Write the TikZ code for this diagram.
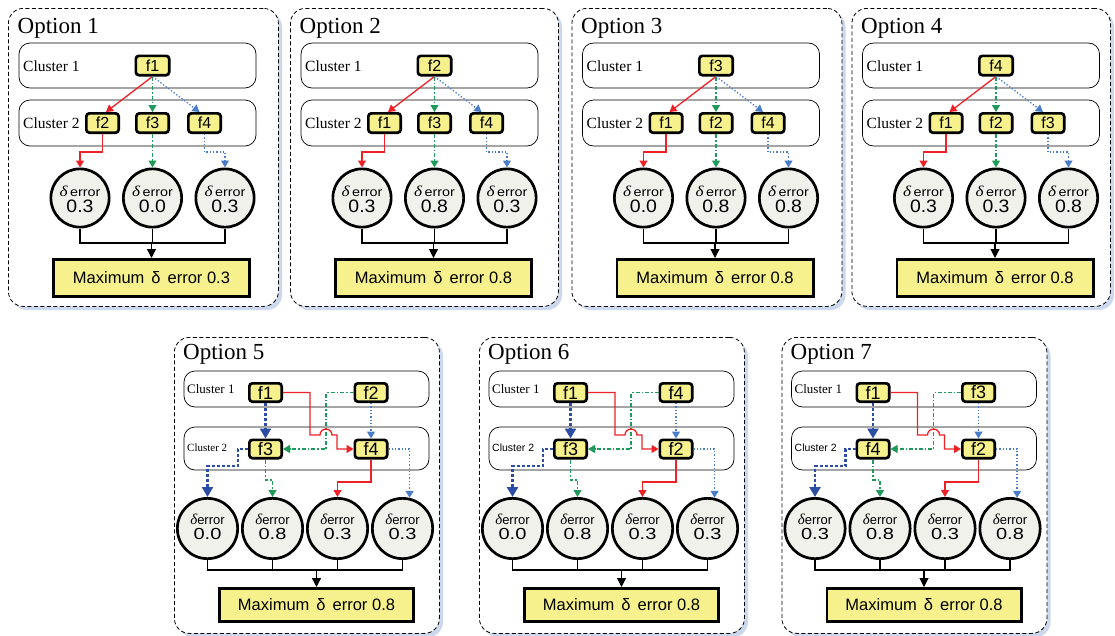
\documentclass[tikz,border=0pt]{standalone}
\usepackage{fontspec}
\setmainfont{Liberation Serif}
\setsansfont{Liberation Sans}
\usetikzlibrary{arrows.meta,calc}
\definecolor{fy}{HTML}{F6F18C}
\definecolor{cgy}{HTML}{F1F1EC}
\definecolor{cr}{HTML}{EC2227}
\definecolor{cgr}{HTML}{1E9A5A}
\definecolor{cbl}{HTML}{4A7DC8}
\definecolor{cbd}{HTML}{2B4DA3}
\definecolor{shd}{HTML}{CCD8EE}
\newcommand\fs[1]{\fontsize{#1}{#1}\selectfont}
\def\seterr#1#2#3#4{\def\eA{#1}\def\eB{#2}\def\eC{#3}\def\eM{#4}}
\def\seterrb#1#2#3#4#5{\def\eA{#1}\def\eB{#2}\def\eC{#3}\def\eD{#4}\def\eM{#5}}
\tikzset{
  panel/.style={draw=black, dash pattern=on 4pt off 2.5pt, line width=0.8pt, rounded corners=15pt, fill=white, inner sep=0pt},
  clus/.style={draw=black, line width=0.7pt, rounded corners=11pt, fill=white, inner sep=0pt},
  fnode/.style={draw=black, line width=2.7pt, rounded corners=3pt, fill=fy, inner sep=0pt, font=\sffamily},
  errc/.style={circle, draw=black, line width=2.7pt, fill=cgy, inner sep=0pt},
  maxb/.style={draw=black, line width=2.7pt, fill=fy, inner sep=0pt, font=\fs{16.5}\sffamily},
  txt/.style={inner sep=0pt},
  ar/.style={draw=cr, line width=1.3pt, -{Triangle[width=8pt,length=7pt]}},
  ag/.style={draw=cgr, line width=1.3pt, dash pattern=on 4pt off 2pt on 1.5pt off 2pt, -{Triangle[width=8pt,length=7pt]}},
  ab/.style={draw=cbl, line width=1.3pt, dash pattern=on 1.3pt off 2pt, -{Triangle[width=8pt,length=7pt]}},
  abd/.style={draw=cbd, line width=2.8pt, dash pattern=on 3pt off 2pt, -{Triangle[width=11pt,length=10pt]}},
  ak/.style={draw=black, line width=1.1pt},
  akt/.style={draw=black, line width=1.1pt, -{Triangle[width=9pt,length=9pt]}}
}
% top-row panel: #1 left, #2 right, #3 number, #4 top node, #5-#7 second row, #8 {e1}{e2}{e3}{max}
\newcommand\toppanel[8]{%
 \seterr#8%
 \pgfmathsetmacro\PW{#2-#1}%
 \begin{scope}[shift={(#1,8)}, name prefix=p#3-]
  \fill[shd, rounded corners=15pt] (4,4) rectangle ({\PW+4},302);
  \node[panel, anchor=north west, minimum width=\PW pt, minimum height=298pt] (frame) at (0,0) {};
  \node[txt, anchor=base west, font=\fs{23}] (ttl) at (9.5,25) {Option #3};
  \node[clus, minimum width=237pt, minimum height=45pt] (k1) at (129.5,57.5) {};
  \node[clus, minimum width=237pt, minimum height=46pt] (k2) at (129.5,115) {};
  \node[txt, anchor=west, font=\fs{15.5}] (k1t) at (15,58) {Cluster 1};
  \node[txt, anchor=west, font=\fs{15.5}] (k2t) at (15,115) {Cluster 2};
  \node[fnode, minimum width=33.3pt, minimum height=19.3pt, font=\fs{16}\sffamily] (t) at (144.5,57.5) {#4};
  \node[fnode, minimum width=32.3pt, minimum height=19.3pt, font=\fs{16}\sffamily] (a) at (94.5,115) {#5};
  \node[fnode, minimum width=32.3pt, minimum height=19.3pt, font=\fs{16}\sffamily] (b) at (144.5,115) {#6};
  \node[fnode, minimum width=32.3pt, minimum height=19.3pt, font=\fs{16}\sffamily] (c) at (196.5,115) {#7};
  \node[errc, minimum size=58.3pt] (e1) at (72,190) {};
  \node[errc, minimum size=58.3pt] (e2) at (144.5,190) {};
  \node[errc, minimum size=58.3pt] (e3) at (217,190) {};
  \foreach \n/\v in {e1/\eA, e2/\eB, e3/\eC}{
    \node[txt, anchor=base] (\n a) at ($(\n)+(0,-2)$) {\scalebox{1.15}[1]{\fs{15}\itshape δ\fs{12.5}\sffamily\upshape\,error}};
    \node[txt, anchor=base] (\n b) at ($(\n)+(0,14)$) {\scalebox{1.08}[1]{\fs{18}\sffamily\v}};
  }
  \node[maxb, minimum width=196.3pt, minimum height=37.3pt] (mx) at (143.5,270) {Maximum\hspace{7pt}δ\hspace{7pt}error \eM};
  \coordinate (j) at (143.5,235);
  \draw[ar] (t.south) -- ($(a.north)+(3.5,0)$);
  \draw[ag] (t.south) -- (b.north);
  \draw[ab] (t.south) -- ($(c.north)+(-5,0)$);
  \draw[ar] (a.south) -- ++(0,18) -| (e1.north);
  \draw[ag] (b.south) -- (b.south |- e2.north);
  \draw[ab] (c.south) -- ++(0,18) -| (e3.north);
  \draw[ak] (e1.south) |- (j) -| (e3.south);
  \draw[ak] (e2.south) -- (e2.south |- j);
  \draw[akt] (j) -- (mx.north);
 \end{scope}}
% bottom-row panel: #1 left, #2 right, #3 number, #4 top-right node, #5 #6 second row, #7 {e1}{e2}{e3}{e4}{max}, #8 cluster-2 font
\newcommand\botpanel[8]{%
 \seterrb#7%
 \pgfmathsetmacro\PW{#2-#1}%
 \begin{scope}[shift={(#1,337)}, name prefix=p#3-]
  \fill[shd, rounded corners=15pt] (4,4) rectangle ({\PW+4},300);
  \node[panel, anchor=north west, minimum width=\PW pt, minimum height=296pt] (frame) at (0,0) {};
  \node[txt, anchor=base west, font=\fs{23}] (ttl) at (9,22) {Option #3};
  \node[clus, minimum width=245pt, minimum height=36pt] (k1) at (132.5,52) {};
  \node[clus, minimum width=245pt, minimum height=43pt] (k2) at (132.5,111.5) {};
  \node[txt, anchor=west, font=\fs{13}] (k1t) at (13,52) {Cluster 1};
  \node[txt, anchor=west, font=#8] (k2t) at (13,111) {Cluster 2};
  \node[fnode, minimum width=32.3pt, minimum height=18.3pt, font=\fs{18}\sffamily] (fA) at (91.5,55.5) {f1};
  \node[fnode, minimum width=32.3pt, minimum height=18.3pt, font=\fs{18}\sffamily] (fB) at (197,55.5) {#4};
  \node[fnode, minimum width=32.3pt, minimum height=18.3pt, font=\fs{18}\sffamily] (fC) at (91.5,112) {#5};
  \node[fnode, minimum width=32.3pt, minimum height=18.3pt, font=\fs{18}\sffamily] (fD) at (197,112) {#6};
  \node[errc, minimum size=60.3pt] (e1) at (33.5,191.5) {};
  \node[errc, minimum size=60.3pt] (e2) at (98.5,191.5) {};
  \node[errc, minimum size=60.3pt] (e3) at (163.5,191.5) {};
  \node[errc, minimum size=60.3pt] (e4) at (228.5,191.5) {};
  \foreach \n/\v in {e1/\eA, e2/\eB, e3/\eC, e4/\eD}{
    \node[txt, anchor=base] (\n a) at ($(\n)+(0,-4.5)$) {\fs{15}\itshape δ\fs{13}\sffamily\upshape error};
    \node[txt, anchor=base] (\n b) at ($(\n)+(0,11)$) {\scalebox{1.25}[1]{\fs{16}\sffamily\v}};
  }
  \node[maxb, minimum width=194.3pt, minimum height=33.3pt] (mx) at (142.5,268) {Maximum\hspace{7pt}δ\hspace{7pt}error \eM};
  \coordinate (j) at (142.5,233);
  \draw[abd] (fA.south) -- (fC.north);
  \draw[ag] (fB.west) -| (152,112) -- (fC.east);
  \draw[ar] (fA.east) -| (136,98) -- (146,98) arc[start angle=180, end angle=0, radius=6pt] -- (163,98) |- (fD.west);
  \draw[ab] (fB.south) -- (fD.north);
  \draw[ab] (fD.east) -| (e4.77);
  \draw[ar] (fD.south) -- ++(0,22.5) -| (e3.north);
  \draw[ag] (fC.south) -- ++(0,20.5) -| (e2.north);
  \draw[abd] (fC.west) -- ++(-10,0) -- ++(0,17) -| (e1.north);
  \draw[ak] (e1.south) |- (j) -| (e4.south);
  \draw[ak] (e2.south) -- (e2.south |- j);
  \draw[ak] (e3.south) -- (e3.south |- j);
  \draw[akt] (j) -- (mx.north);
 \end{scope}}
\begin{document}
\begin{tikzpicture}[x=1pt, y=-1pt]
\fill[white] (0,0) rectangle (1115,635);
\useasboundingbox (0,0) rectangle (1115,635);
\toppanel{8}{278}{1}{f1}{f2}{f3}{f4}{{0.3}{0.0}{0.3}{0.3}}
\toppanel{290}{558}{2}{f2}{f1}{f3}{f4}{{0.3}{0.8}{0.3}{0.8}}
\toppanel{571.5}{841.5}{3}{f3}{f1}{f2}{f4}{{0.0}{0.8}{0.8}{0.8}}
\toppanel{851.5}{1110}{4}{f4}{f1}{f2}{f3}{{0.3}{0.3}{0.8}{0.8}}
\botpanel{174}{439}{5}{f2}{f3}{f4}{{0.0}{0.8}{0.3}{0.3}{0.8}}{\fs{11}}
\botpanel{479}{744}{6}{f4}{f3}{f2}{{0.0}{0.8}{0.3}{0.3}{0.8}}{\fs{10.5}\sffamily}
\botpanel{781.5}{1046.5}{7}{f3}{f4}{f2}{{0.3}{0.8}{0.3}{0.8}{0.8}}{\fs{10.5}\sffamily}
\end{tikzpicture}
\end{document}
